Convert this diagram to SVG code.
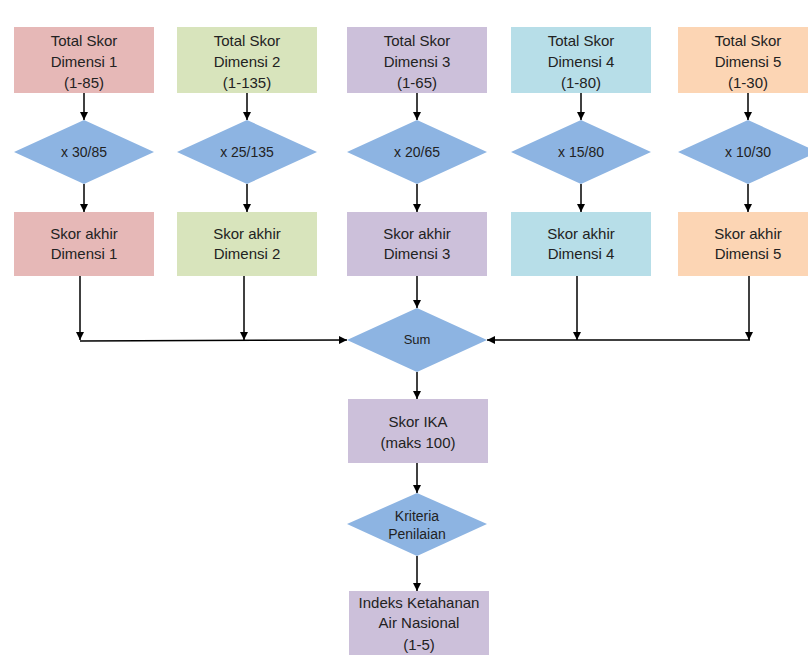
<svg xmlns="http://www.w3.org/2000/svg" width="808" height="655" viewBox="0 0 808 655">
<defs>
<marker id="ah" viewBox="0 0 10 10" refX="10" refY="5" markerWidth="9" markerHeight="8" markerUnits="userSpaceOnUse" orient="auto">
<path d="M0,0 L10,5 L0,10 z" fill="#000"/>
</marker>
</defs>
<style>
text{font-family:"Liberation Sans",Arial,sans-serif;fill:#222;text-anchor:middle}
.t{font-size:15px}
.d{font-size:14px}
.s{font-size:13px}
.k{font-size:14px}
.dia{fill:#8DB4E2}
.c1{fill:#E6B8B7}.c2{fill:#D8E4BC}.c3{fill:#CCC0DA}.c4{fill:#B7DEE8}.c5{fill:#FCD5B4}
.ln{stroke:#000;stroke-width:1.5;fill:none}
.ar{marker-end:url(#ah)}
</style>
<rect width="808" height="655" fill="#fff"/>

<g id="total1"><rect class="c1" x="14" y="27" width="140" height="66"/><text class="t" x="84" y="46">Total Skor</text><text class="t" x="84" y="67">Dimensi 1</text><text class="t" x="84" y="88">(1-85)</text></g>
<g id="total2"><rect class="c2" x="177" y="27" width="140" height="66"/><text class="t" x="247" y="46">Total Skor</text><text class="t" x="247" y="67">Dimensi 2</text><text class="t" x="247" y="88">(1-135)</text></g>
<g id="total3"><rect class="c3" x="347" y="27" width="140" height="66"/><text class="t" x="417" y="46">Total Skor</text><text class="t" x="417" y="67">Dimensi 3</text><text class="t" x="417" y="88">(1-65)</text></g>
<g id="total4"><rect class="c4" x="511" y="27" width="140" height="66"/><text class="t" x="581" y="46">Total Skor</text><text class="t" x="581" y="67">Dimensi 4</text><text class="t" x="581" y="88">(1-80)</text></g>
<g id="total5"><rect class="c5" x="678" y="27" width="140" height="66"/><text class="t" x="748" y="46">Total Skor</text><text class="t" x="748" y="67">Dimensi 5</text><text class="t" x="748" y="88">(1-30)</text></g>

<g id="mul1"><polygon class="dia" points="84,120 154,152 84,184 14,152"/><text class="d" x="84" y="157">x 30/85</text></g>
<g id="mul2"><polygon class="dia" points="247,120 317,152 247,184 177,152"/><text class="d" x="247" y="157">x 25/135</text></g>
<g id="mul3"><polygon class="dia" points="417,120 487,152 417,184 347,152"/><text class="d" x="417" y="157">x 20/65</text></g>
<g id="mul4"><polygon class="dia" points="581,120 651,152 581,184 511,152"/><text class="d" x="581" y="157">x 15/80</text></g>
<g id="mul5"><polygon class="dia" points="748,120 818,152 748,184 678,152"/><text class="d" x="748" y="157">x 10/30</text></g>

<g id="akhir1"><rect class="c1" x="14" y="212" width="140" height="64"/><text class="t" x="84" y="239">Skor akhir</text><text class="t" x="84" y="259">Dimensi 1</text></g>
<g id="akhir2"><rect class="c2" x="177" y="212" width="140" height="64"/><text class="t" x="247" y="239">Skor akhir</text><text class="t" x="247" y="259">Dimensi 2</text></g>
<g id="akhir3"><rect class="c3" x="347" y="212" width="140" height="64"/><text class="t" x="417" y="239">Skor akhir</text><text class="t" x="417" y="259">Dimensi 3</text></g>
<g id="akhir4"><rect class="c4" x="511" y="212" width="140" height="64"/><text class="t" x="581" y="239">Skor akhir</text><text class="t" x="581" y="259">Dimensi 4</text></g>
<g id="akhir5"><rect class="c5" x="678" y="212" width="140" height="64"/><text class="t" x="748" y="239">Skor akhir</text><text class="t" x="748" y="259">Dimensi 5</text></g>

<g id="sum"><polygon class="dia" points="417,308 487,340 417,372 347,340"/><text class="s" x="417" y="344">Sum</text></g>

<g id="ika"><rect class="c3" x="348" y="399" width="140" height="64"/><text class="t" x="418" y="427">Skor IKA</text><text class="t" x="418" y="448">(maks 100)</text></g>

<g id="kriteria"><polygon class="dia" points="417,493 487,524 417,556 347,524"/><text class="k" x="417" y="521">Kriteria</text><text class="k" x="417" y="539">Penilaian</text></g>

<g id="indeks"><rect class="c3" x="349" y="591" width="140" height="66"/><text class="t" x="419" y="608">Indeks Ketahanan</text><text class="t" x="419" y="628">Air Nasional</text><text class="t" x="419" y="650">(1-5)</text></g>

<g id="connectors">
<line class="ln ar" x1="84" y1="93" x2="84" y2="120"/>
<line class="ln ar" x1="247" y1="93" x2="247" y2="120"/>
<line class="ln ar" x1="417" y1="93" x2="417" y2="120"/>
<line class="ln ar" x1="581" y1="93" x2="581" y2="120"/>
<line class="ln ar" x1="748" y1="93" x2="748" y2="120"/>
<line class="ln ar" x1="84" y1="184" x2="84" y2="212"/>
<line class="ln ar" x1="247" y1="184" x2="247" y2="212"/>
<line class="ln ar" x1="417" y1="184" x2="417" y2="212"/>
<line class="ln ar" x1="581" y1="184" x2="581" y2="212"/>
<line class="ln ar" x1="748" y1="184" x2="748" y2="212"/>
<line class="ln ar" x1="80" y1="276" x2="80" y2="340"/>
<line class="ln ar" x1="244" y1="276" x2="244" y2="340"/>
<line class="ln ar" x1="417" y1="276" x2="417" y2="308"/>
<line class="ln ar" x1="577" y1="276" x2="577" y2="340"/>
<line class="ln ar" x1="749" y1="276" x2="749" y2="340"/>
<line class="ln ar" x1="80" y1="341" x2="347" y2="340"/>
<line class="ln ar" x1="750" y1="340" x2="487" y2="340"/>
<line class="ln ar" x1="417" y1="372" x2="417" y2="399"/>
<line class="ln ar" x1="417" y1="463" x2="417" y2="493"/>
<line class="ln ar" x1="417" y1="556" x2="417" y2="591"/>
</g>
</svg>
